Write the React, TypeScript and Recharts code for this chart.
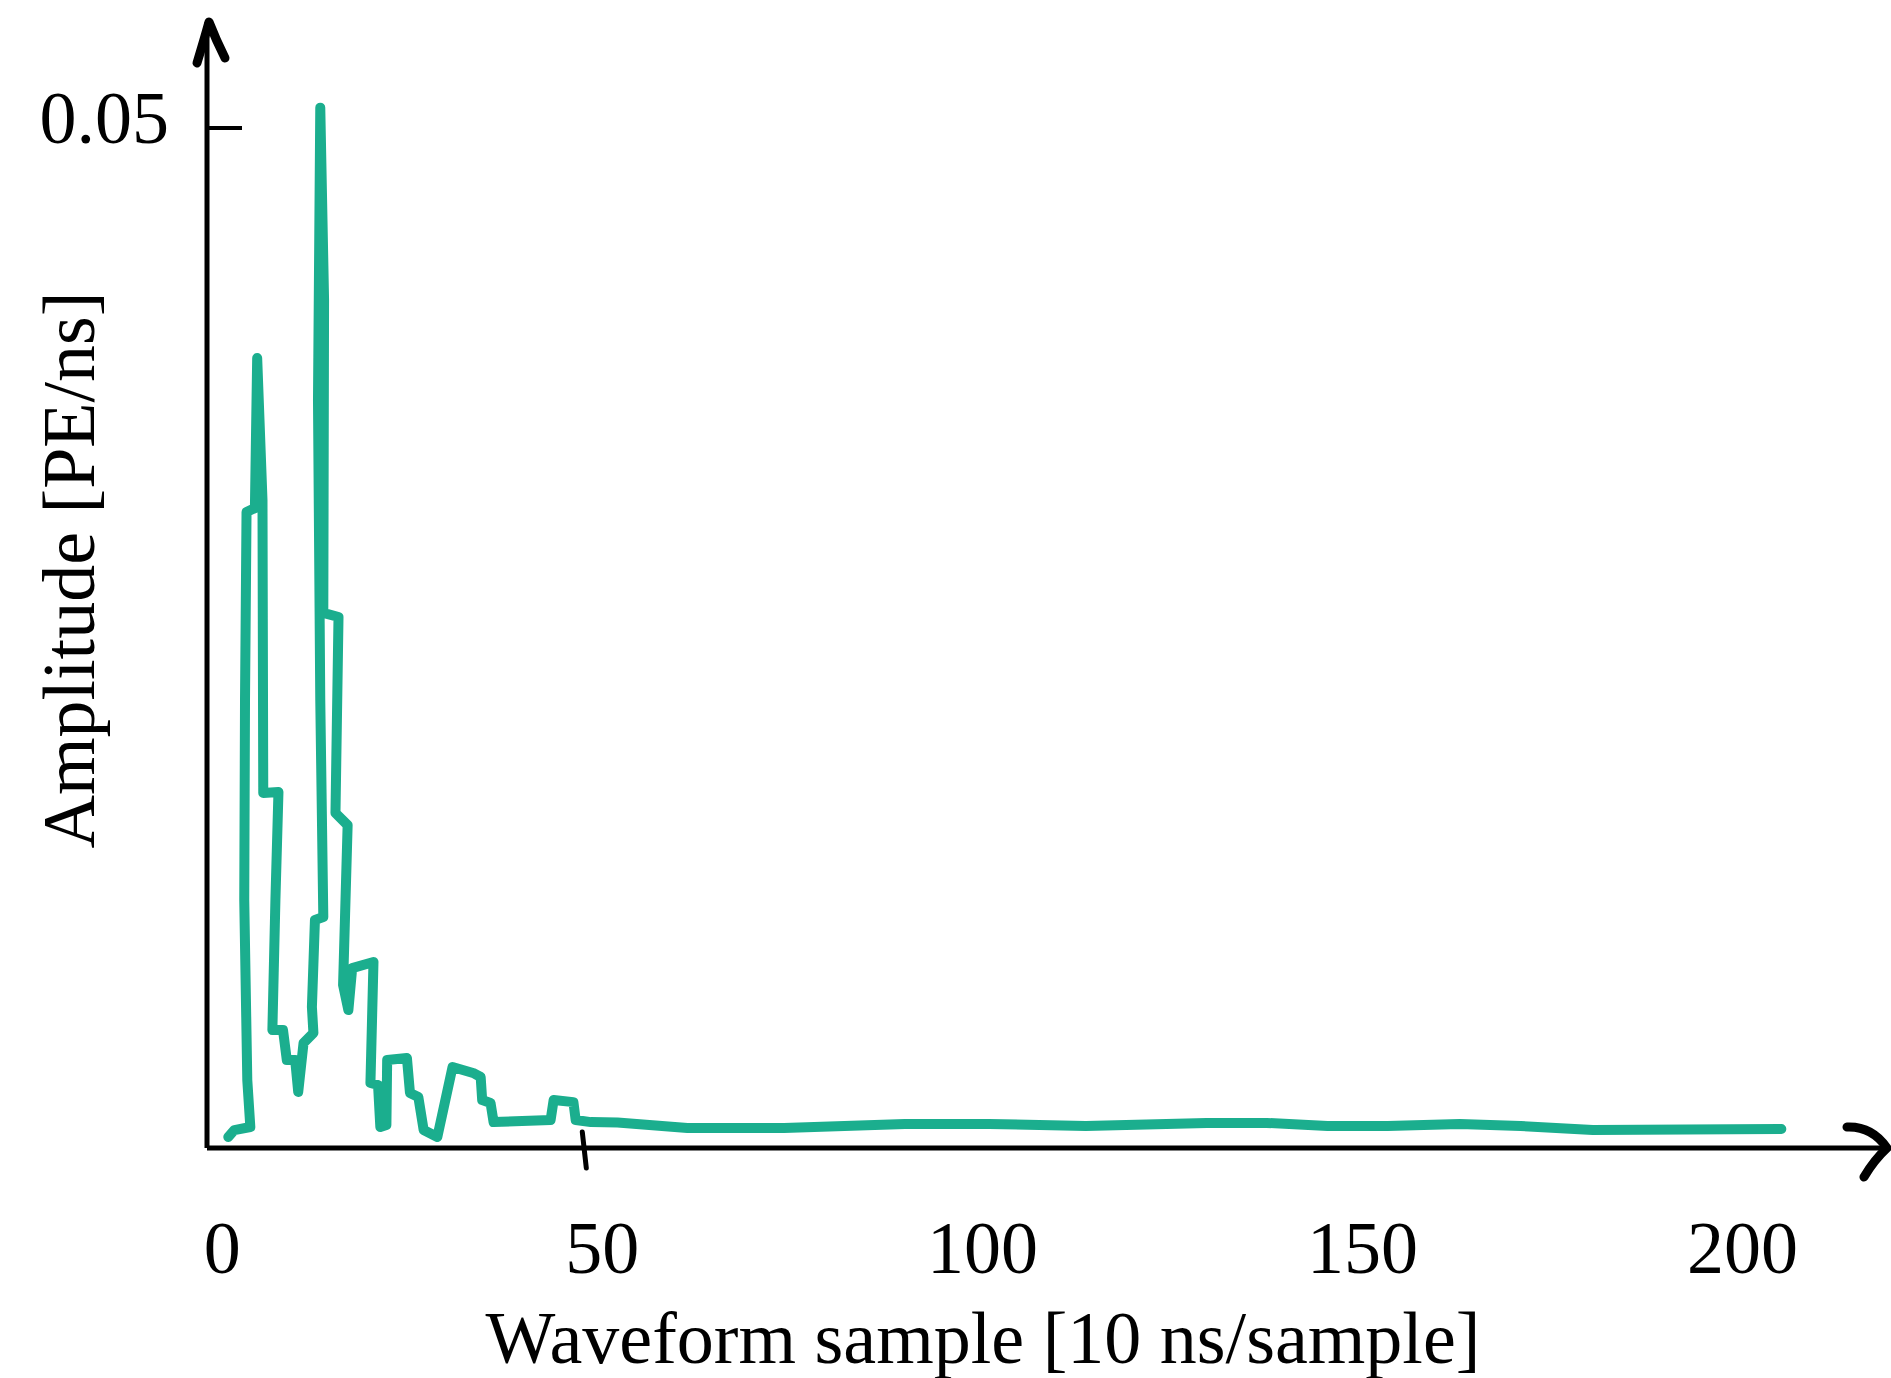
import { Line, LineChart, XAxis, YAxis } from 'recharts';

// sample index [10 ns/sample] and amplitude [PE/ns], traced in drawing order
const SAMPLE = [
    0.8, 1.6, 3.7, 3.3, 2.9, 3.0, 3.2, 4.3, 4.6, 5.3, 5.4, 7.4, 7.0, 6.6, 8.0, 8.5,
    9.6, 10.0, 10.7, 12.0, 11.8, 12.2, 13.3, 12.9, 12.6, 12.9, 13.4, 13.3, 15.3, 14.9,
    16.5, 15.9, 16.6, 17.1, 19.9, 19.5, 20.5, 20.8, 21.6, 21.7, 24.3, 24.7, 25.8, 26.5,
    28.3, 30.3, 33.0, 34.0, 34.2, 35.3, 35.7, 43.2, 43.6, 46.2, 46.5, 48.5, 52.0, 61.2,
    73.9, 89.8, 100.9, 113.6, 129.5, 137.4, 145.4, 153.3, 162.8, 170.8, 180.3, 205.1
];
const AMPLITUDE = [
    0.00054, 0.00088, 0.00103, 0.00333, 0.01216, 0.02196, 0.03118, 0.03137, 0.03873,
    0.03176, 0.0174, 0.01745, 0.01216, 0.00578, 0.00578, 0.00431, 0.00431, 0.00275,
    0.00515, 0.00564, 0.00691, 0.01118, 0.01132, 0.02196, 0.03667, 0.05100, 0.04157,
    0.02623, 0.02603, 0.01642, 0.01583, 0.00799, 0.00676, 0.00882, 0.00912, 0.00319,
    0.00309, 0.00103, 0.00113, 0.00431, 0.00441, 0.0027, 0.0025, 0.00088, 0.00054,
    0.00397, 0.00368, 0.00348, 0.00235, 0.00221, 0.00127, 0.00137, 0.00235, 0.00225,
    0.00137, 0.00127, 0.00125, 0.00098, 0.00098, 0.00118, 0.00118, 0.00108, 0.00123,
    0.00123, 0.00108, 0.00108, 0.00118, 0.00108, 0.00088, 0.00093
];
const X_TICKS = [0, 50, 100, 150, 200];
const Y_TICKS = [0.05];
const MARKED_X_TICK = 50;

const W = 1891;
const H = 1378;
const FONT = '"Liberation Serif", "DejaVu Serif", serif';
const GREEN = '#1BAE8E';

const data = SAMPLE.map((s, i) => ({ s, a: AMPLITUDE[i] }));

const XTick = ({ x, y, payload }: any) => (
    <g>
        {payload.value === MARKED_X_TICK && (
            <line x1={x - 20} y1={y - 16} x2={x - 16} y2={y + 20} stroke="#000" strokeWidth={5} strokeLinecap="round" />
        )}
        <text x={x} y={y + 125} textAnchor="middle" fontSize={74} fontFamily={FONT} fill="#000">
            {payload.value}
        </text>
    </g>
);

const YTick = ({ x, y, payload }: any) => (
    <g>
        <line x1={x} y1={y} x2={x + 35} y2={y} stroke="#000" strokeWidth={4} />
        <text x={x - 38} y={y + 15} textAnchor="end" fontSize={74} fontFamily={FONT} fill="#000">
            {payload.value}
        </text>
    </g>
);

export default function App() {
    return (
        <div style={{ position: 'absolute', left: 0, top: 0, width: W, height: H, background: '#fff' }}>
            <LineChart width={W} height={H} data={data} margin={{ top: 22, right: 4, left: 7, bottom: 110 }}>
                <XAxis
                    dataKey="s"
                    type="number"
                    domain={[-2, 219]}
                    ticks={X_TICKS}
                    height={120}
                    tickSize={0}
                    tickMargin={0}
                    tickLine={false}
                    axisLine={{ stroke: '#000', strokeWidth: 5 }}
                    tick={<XTick />}
                    allowDataOverflow
                />
                <YAxis
                    dataKey="a"
                    type="number"
                    domain={[0, 0.0552]}
                    ticks={Y_TICKS}
                    width={200}
                    tickSize={0}
                    tickMargin={0}
                    tickLine={false}
                    axisLine={{ stroke: '#000', strokeWidth: 5 }}
                    tick={<YTick />}
                    allowDataOverflow
                />
                <Line
                    type="linear"
                    dataKey="a"
                    stroke={GREEN}
                    strokeWidth={10}
                    strokeLinecap="round"
                    strokeLinejoin="round"
                    dot={false}
                    activeDot={false}
                    isAnimationActive={false}
                />
            </LineChart>
            <svg width={W} height={H} style={{ position: 'absolute', left: 0, top: 0, pointerEvents: 'none' }}>
                {/* hand-drawn arrow heads */}
                <path d="M197,63 Q204,40 209,22 Q216,40 225,58" fill="none" stroke="#000" strokeWidth={9} strokeLinecap="round" strokeLinejoin="round" />
                <path d="M1847,1127 Q1872,1126 1887,1148 Q1874,1160 1864,1177" fill="none" stroke="#000" strokeWidth={9} strokeLinecap="round" strokeLinejoin="round" />
                <line x1={1880} y1={1148} x2={1887} y2={1148} stroke="#000" strokeWidth={5} />
                <text x={983} y={1363} textAnchor="middle" fontSize={74} fontFamily={FONT} fill="#000">
                    Waveform sample [10 ns/sample]
                </text>
                <text transform="translate(94,570) rotate(-90)" textAnchor="middle" fontSize={74} fontFamily={FONT} fill="#000">
                    Amplitude [PE/ns]
                </text>
            </svg>
        </div>
    );
}
